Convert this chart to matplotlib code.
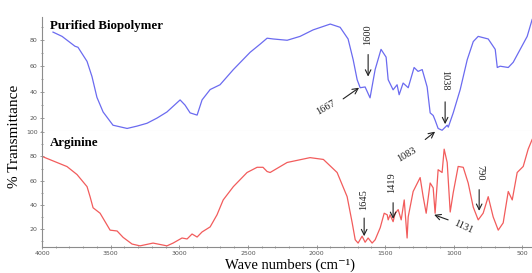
import matplotlib
matplotlib.use("Agg")
import matplotlib.pyplot as plt
from matplotlib.ticker import MultipleLocator

# spectrum of the purified biopolymer (wavenumber, %T)
bio_wn = [3920, 3854, 3760, 3738, 3672, 3636, 3600, 3555, 3483, 3380, 3308,
          3235, 3162, 3090, 2994, 2958, 2921, 2870, 2834, 2775, 2703, 2606,
          2484, 2411, 2360, 2316, 2214, 2120, 2025, 1900, 1828, 1770, 1733,
          1704, 1682, 1646, 1610, 1573, 1530, 1493, 1478, 1442, 1413, 1398,
          1369, 1332, 1289, 1260, 1230, 1194, 1172, 1150, 1136, 1114, 1085,
          1048, 1040, 1004, 953, 902, 858, 822, 749, 698, 683, 662, 603, 567,
          516, 465, 429]
bio_t = [86.3, 83, 75.4, 74.6, 63.7, 52, 36, 24.7, 14.5, 12, 13.8,
         16, 20, 24.7, 34, 30, 24, 22.3, 34, 42, 45.7, 57.4,
         70.7, 77, 81.6, 81, 80, 83, 88, 92.5, 90, 81, 65,
         49.6, 43.4, 44, 35.6, 57.4, 73, 67, 49.6, 41.8, 45.7, 38,
         47, 43.4, 59, 56, 57.4, 44, 24, 22, 18.4, 12, 10.6,
         14.5, 13, 24, 42, 65, 79, 83, 81, 73, 59, 60, 59, 63,
         73, 83, 96]

# spectrum of arginine
arg_wn = [4000, 3818, 3745, 3672, 3650, 3628, 3577, 3504, 3453, 3409, 3344,
          3286, 3191, 3090, 3045, 2980, 2943, 2907, 2870, 2834, 2775, 2725,
          2680, 2606, 2506, 2433, 2390, 2360, 2338, 2214, 2047, 1950, 1850,
          1777, 1740, 1718, 1697, 1668, 1646, 1624, 1595, 1573, 1536, 1507,
          1485, 1478, 1464, 1442, 1427, 1405, 1383, 1361, 1340, 1332, 1296,
          1245, 1223, 1201, 1172, 1150, 1136, 1114, 1085, 1070, 1048, 1026,
          1004, 968, 931, 895, 858, 822, 786, 749, 713, 676, 640, 603, 574,
          538, 494, 458, 429]
arg_t = [80, 71.6, 65, 55, 46.7, 37.5, 33, 19, 18.3, 13, 7.5,
         6, 8.3, 6, 8.3, 12.5, 11.7, 15.8, 13.3, 17.5, 21.7, 31.7,
         44, 55, 66.7, 71, 71, 67.5, 66.7, 75, 79, 77.5, 66.7,
         46.7, 25, 11, 8.3, 14, 9, 12.5, 8.3, 11, 21, 33,
         31.7, 27.5, 31.7, 26, 33, 36, 27.5, 44, 12.5, 30, 51,
         62.5, 46.7, 33, 58, 54, 33, 69, 66.7, 86, 75, 34,
         50, 71.7, 71, 58, 38, 27.5, 33, 46.7, 30, 19, 25, 51, 44,
         66.7, 71.7, 86, 94]

# peak labels: (text, text x, text y, rotation, arrow start, arrow tip)
bio_peaks = [
    ("1600", 1631, 84, 90, (1624, 69), (1624, 52)),
    ("1667", 1930, 27.8, 30, (1806, 34.8), (1690, 43.4)),
    ("1038", 1063, 49, 270, (1063, 32.5), (1063, 15.3)),
]
arg_peaks = [
    ("1083", 1340, 81.7, 30, (1208, 94), (1136, 100.5)),
    ("1645", 1660, 44, 90, (1653, 29), (1653, 14)),
    ("1419", 1456, 58, 90, (1442, 41.7), (1442, 28.3)),
    ("1131", 931, 21.7, -25, (1041, 27.5), (1143, 31.7)),
    ("790", 808, 66.7, 270, (815, 52.5), (815, 35)),
]

fig = plt.figure(figsize=(5.32, 2.73), dpi=100)
ax_top = fig.add_axes([0.079, 0.520, 0.921, 0.418])
ax_bot = fig.add_axes([0.079, 0.095, 0.921, 0.425])

serif = ["Liberation Serif", "DejaVu Serif"]


def style_axis(ax, ylim):
    ax.set_xlim(4000, 430)
    ax.set_ylim(*ylim)
    for s in ["top", "right"]:
        ax.spines[s].set_visible(False)
    ax.spines["left"].set_color("#8c8c8c")
    ax.spines["left"].set_linewidth(0.8)
    ax.yaxis.set_major_locator(MultipleLocator(20))
    ax.yaxis.set_minor_locator(MultipleLocator(10))
    ax.xaxis.set_major_locator(MultipleLocator(500))
    ax.xaxis.set_minor_locator(MultipleLocator(100))
    ax.tick_params(which="both", direction="inout", color="#8c8c8c",
                   labelsize=4.5, labelcolor="#555555", width=0.6, pad=1.5)
    ax.tick_params(which="major", length=3)
    ax.tick_params(which="minor", length=2)


style_axis(ax_top, (10, 98))
ax_top.spines["bottom"].set_color("#dcdcdc")
ax_top.spines["bottom"].set_linewidth(0.8)
ax_top.tick_params(axis="x", which="both", bottom=False, labelbottom=False)
ax_top.set_yticks([20, 40, 60, 80])

style_axis(ax_bot, (5, 101))
ax_bot.spines["bottom"].set_color("#8c8c8c")
ax_bot.spines["bottom"].set_linewidth(0.8)
ax_bot.set_yticks([20, 40, 60, 80, 100])

ax_top.plot(bio_wn, bio_t, color="#6b6bf0", lw=0.9)
ax_bot.plot(arg_wn, arg_t, color="#f25c5c", lw=0.9)

ax_top.text(3940, 96, "Purified Biopolymer", family=serif, weight="bold",
            fontsize=9.3, va="top")
ax_bot.text(3940, 96, "Arginine", family=serif, weight="bold",
            fontsize=9.3, va="top")

for ax, peaks in [(ax_top, bio_peaks), (ax_bot, arg_peaks)]:
    for lab, tx, ty, rot, start, tip in peaks:
        ax.text(tx, ty, lab, family=serif, fontsize=7.5, color="#222222",
                rotation=rot, ha="center", va="center", clip_on=False)
        ax.annotate("", xy=tip, xytext=start, annotation_clip=False,
                    arrowprops=dict(arrowstyle="->", color="#222222",
                                    lw=0.8, shrinkA=0, shrinkB=0))

fig.text(0.027, 0.50, "% Transmittance", family=serif, fontsize=11,
         rotation=90, ha="center", va="center")
fig.text(0.545, 0.03, "Wave numbers (cm\u207b\u00b9)", family=serif,
         fontsize=10.5, ha="center", va="center")

fig.savefig("out.png", dpi=100)
